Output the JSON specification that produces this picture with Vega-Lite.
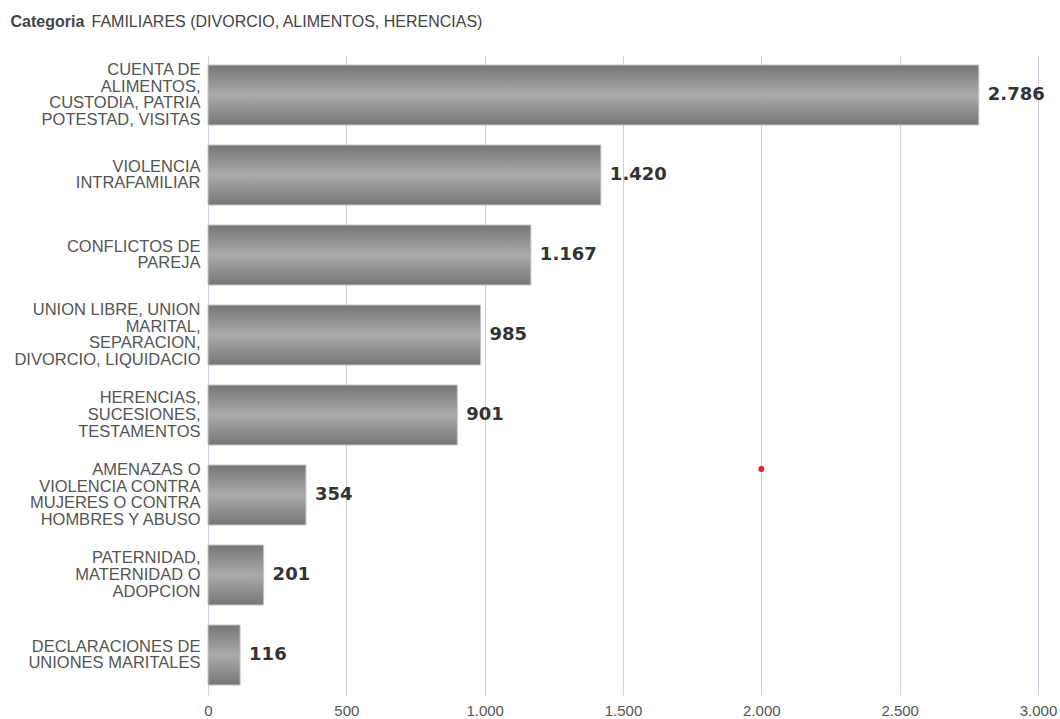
{
  "$schema": "https://vega.github.io/schema/vega-lite/v6.json",
  "autosize": "none",
  "width": 830,
  "height": 640,
  "padding": {"left": 208, "top": 55, "right": 22, "bottom": 24},
  "background": "white",
  "config": {
    "view": {"stroke": null},
    "locale": {"number": {"decimal": ",", "thousands": ".", "grouping": [3], "currency": ["", " €"]}},
    "font": "Liberation Sans"
  },
  "datasets": {
    "barras": [
      {"categoria": "CUENTA DE|ALIMENTOS,|CUSTODIA, PATRIA|POTESTAD, VISITAS", "valor": 2786},
      {"categoria": "VIOLENCIA|INTRAFAMILIAR", "valor": 1420},
      {"categoria": "CONFLICTOS DE|PAREJA", "valor": 1167},
      {"categoria": "UNION LIBRE, UNION|MARITAL,|SEPARACION,|DIVORCIO, LIQUIDACIO", "valor": 985},
      {"categoria": "HERENCIAS,|SUCESIONES,|TESTAMENTOS", "valor": 901},
      {"categoria": "AMENAZAS O|VIOLENCIA CONTRA|MUJERES O CONTRA|HOMBRES Y ABUSO", "valor": 354},
      {"categoria": "PATERNIDAD,|MATERNIDAD O|ADOPCION", "valor": 201},
      {"categoria": "DECLARACIONES DE|UNIONES MARITALES", "valor": 116}
    ],
    "punto": [
      {"categoria": "AMENAZAS O|VIOLENCIA CONTRA|MUJERES O CONTRA|HOMBRES Y ABUSO", "valor": 2000}
    ]
  },
  "data": {"name": "barras"},
  "encoding": {
    "y": {
      "field": "categoria",
      "type": "nominal",
      "sort": null,
      "scale": {"paddingInner": 0.25, "paddingOuter": 0.125},
      "axis": {
        "title": "Categoria",
        "titleAngle": 0,
        "titleAlign": "left",
        "titleBaseline": "alphabetic",
        "titleX": -198,
        "titleY": -29,
        "titleFont": "Liberation Sans",
        "titleFontSize": 16,
        "titleFontWeight": "bold",
        "titleColor": "#444444",
        "labelExpr": "split(datum.label, '|')",
        "labelFont": "Liberation Sans",
        "labelFontSize": 16.5,
        "labelLineHeight": 16.7,
        "labelColor": "#555555",
        "labelPadding": 8,
        "labelLimit": 300,
        "labelBaseline": "middle",
        "labelOffset": {
          "condition": [
            {"test": "length(split(datum.label, '|')) == 4", "value": -25},
            {"test": "length(split(datum.label, '|')) == 3", "value": -16.7}
          ],
          "value": -8.35
        },
        "ticks": false,
        "domain": false
      }
    },
    "x": {
      "field": "valor",
      "type": "quantitative",
      "scale": {"domain": [0, 3000], "nice": false},
      "axis": {
        "title": "FAMILIARES (DIVORCIO, ALIMENTOS, HERENCIAS)",
        "titleAlign": "left",
        "titleAnchor": "start",
        "titleBaseline": "alphabetic",
        "titleX": -117,
        "titleY": -669,
        "titleFont": "Liberation Sans",
        "titleFontSize": 16,
        "titleFontWeight": "normal",
        "titleColor": "#444444",
        "values": [0, 500, 1000, 1500, 2000, 2500, 3000],
        "format": ",d",
        "labelFont": "Liberation Sans",
        "labelFontSize": 15,
        "labelColor": "#555555",
        "labelPadding": 8,
        "labelFlush": false,
        "labelOverlap": false,
        "ticks": false,
        "domain": false,
        "grid": true,
        "gridColor": "#c9d2dc",
        "gridWidth": 1
      }
    }
  },
  "layer": [
    {
      "mark": {
        "type": "bar",
        "stroke": "#c4c4c4",
        "strokeWidth": 1,
        "fill": {
          "gradient": "linear",
          "x1": 0, "y1": 0, "x2": 0, "y2": 1,
          "stops": [
            {"offset": 0, "color": "#767676"},
            {"offset": 0.5, "color": "#ababab"},
            {"offset": 1, "color": "#767676"}
          ]
        }
      }
    },
    {
      "mark": {
        "type": "text",
        "align": "left",
        "baseline": "middle",
        "dx": 9,
        "font": "DejaVu Sans",
        "fontSize": 18,
        "fontWeight": "bold",
        "color": "#333333"
      },
      "encoding": {
        "text": {"field": "valor", "type": "quantitative", "format": ",d"}
      }
    },
    {
      "data": {"name": "punto"},
      "mark": {
        "type": "point",
        "filled": true,
        "shape": "circle",
        "size": 36,
        "color": "#e8202a",
        "opacity": 1,
        "yOffset": -26
      }
    }
  ]
}
